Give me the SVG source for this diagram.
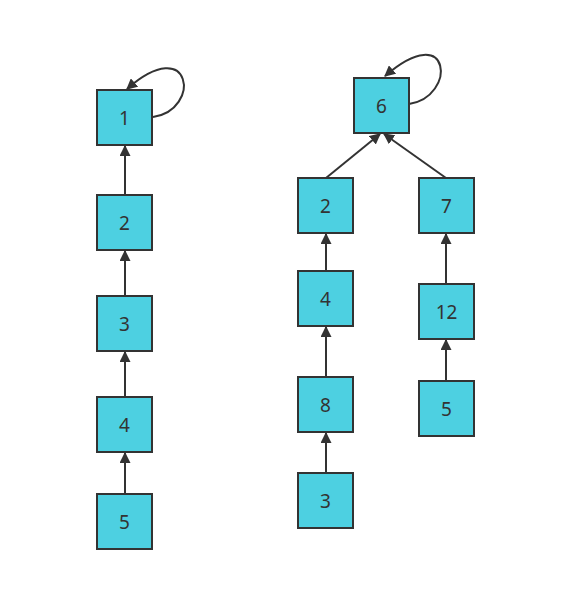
<svg xmlns="http://www.w3.org/2000/svg" width="569" height="597" viewBox="0 0 569 597">
<defs>
<marker id="arr" viewBox="0 0 10 10" refX="9" refY="5" markerWidth="11" markerHeight="11" markerUnits="userSpaceOnUse" orient="auto">
<path d="M0,0 L10,5 L0,10 z" fill="#333"/>
</marker>
<style>
.n rect{fill:#4dd0e1;stroke:#333;stroke-width:2}
.n text{font-family:"Noto Sans","DejaVu Sans",sans-serif;font-size:19px;fill:#333;text-anchor:middle;dominant-baseline:central}
.e path{fill:none;stroke:#333;stroke-width:2;marker-end:url(#arr)}
</style>
</defs>
<rect width="569" height="597" fill="#fff"/>
<g class="e">
<path d="M125,195 V146"/>
<path d="M125,296 V251"/>
<path d="M125,397 V352"/>
<path d="M125,494 V453"/>
<path d="M153,117 C202,110 192,32 127,89"/>
<path d="M326,178 L380,134"/>
<path d="M446,178 L384,134"/>
<path d="M326,271 V234"/>
<path d="M326,376 V327"/>
<path d="M326,473 V433"/>
<path d="M446,284 V234"/>
<path d="M446,381 V340"/>
<path d="M409,104 C457,97 452,18 385,76"/>
</g>
<g id="n1" class="n"><rect x="97" y="90" width="55" height="55"/><text x="124.5" y="117.5">1</text></g>
<g id="n2" class="n"><rect x="97" y="195" width="55" height="55"/><text x="124.5" y="222.5">2</text></g>
<g id="n3" class="n"><rect x="97" y="296" width="55" height="55"/><text x="124.5" y="323.5">3</text></g>
<g id="n4" class="n"><rect x="97" y="397" width="55" height="55"/><text x="124.5" y="424.5">4</text></g>
<g id="n5" class="n"><rect x="97" y="494" width="55" height="55"/><text x="124.5" y="521.5">5</text></g>
<g id="n6" class="n"><rect x="354" y="78" width="55" height="55"/><text x="381.5" y="105.5">6</text></g>
<g id="n2b" class="n"><rect x="298" y="178" width="55" height="55"/><text x="325.5" y="205.5">2</text></g>
<g id="n7" class="n"><rect x="419" y="178" width="55" height="55"/><text x="446.5" y="205.5">7</text></g>
<g id="n4b" class="n"><rect x="298" y="271" width="55" height="55"/><text x="325.5" y="298.5">4</text></g>
<g id="n12" class="n"><rect x="419" y="284" width="55" height="55"/><text x="446.5" y="311.5">12</text></g>
<g id="n8" class="n"><rect x="298" y="377" width="55" height="55"/><text x="325.5" y="404.5">8</text></g>
<g id="n5b" class="n"><rect x="419" y="381" width="55" height="55"/><text x="446.5" y="408.5">5</text></g>
<g id="n3b" class="n"><rect x="298" y="473" width="55" height="55"/><text x="325.5" y="500.5">3</text></g>
</svg>
